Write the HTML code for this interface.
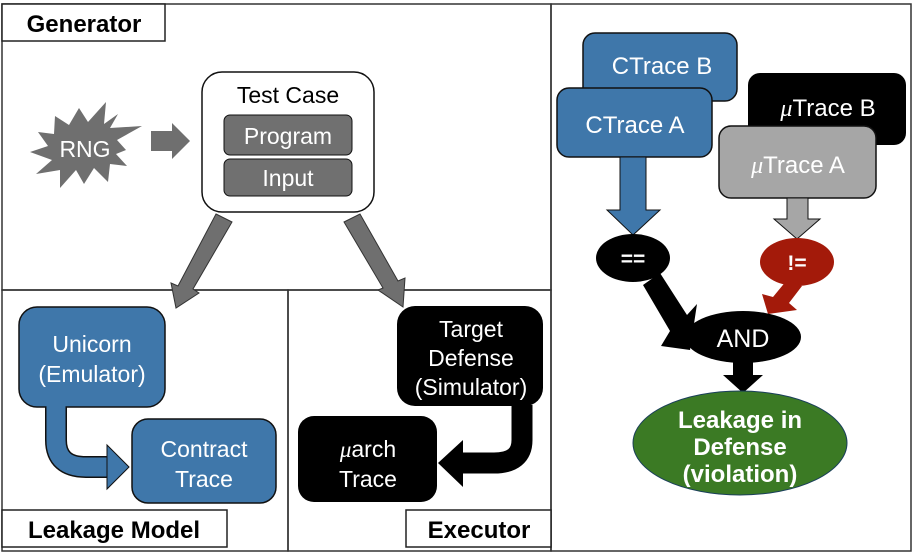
<!DOCTYPE html>
<html><head><meta charset="utf-8"><style>
html,body{margin:0;padding:0;background:#fff;}
svg{display:block;font-family:"Liberation Sans",sans-serif;}
</style></head><body>
<svg width="913" height="558" viewBox="0 0 913 558" xmlns="http://www.w3.org/2000/svg">
<!-- frames -->
<rect x="2" y="4" width="549" height="286" fill="none" stroke="#333" stroke-width="1.5"/>
<rect x="2" y="290" width="286" height="261" fill="none" stroke="#333" stroke-width="1.5"/>
<rect x="288" y="290" width="263" height="261" fill="none" stroke="#333" stroke-width="1.5"/>
<rect x="551" y="4" width="360" height="547" fill="none" stroke="#333" stroke-width="1.5"/>
<rect x="2" y="4" width="163" height="37" fill="#fff" stroke="#222" stroke-width="1.5"/>
<text x="84" y="32" font-size="24" font-weight="bold" text-anchor="middle">Generator</text>
<rect x="2" y="510" width="225" height="37" fill="#fff" stroke="#222" stroke-width="1.5"/>
<text x="114" y="538" font-size="24" font-weight="bold" text-anchor="middle">Leakage Model</text>
<rect x="406" y="510" width="145" height="37" fill="#fff" stroke="#222" stroke-width="1.5"/>
<text x="479" y="538" font-size="24" font-weight="bold" text-anchor="middle">Executor</text>

<!-- RNG -->
<polygon fill="#6f6f6f" points="55,116 69,125 79,108 88,122 106,102 104,124 118,114 110,128 142,126 117,140 126,150 116,154 127,166 110,164 108,182 94,168 84,184 76,170 60,188 60,170 36,174 52,160 30,152 48,146 38,132 54,134"/>
<text x="85" y="157" font-size="23" fill="#fff" text-anchor="middle">RNG</text>
<polygon fill="#6f6f6f" points="151,131 172,131 172,123 190,141 172,159 172,151 151,151"/>

<!-- Test case -->
<rect x="202" y="72" width="172" height="140" rx="20" fill="#fff" stroke="#111" stroke-width="1.5"/>
<text x="288" y="103" font-size="23" text-anchor="middle">Test Case</text>
<rect x="224" y="115" width="128" height="40" rx="6" fill="#707070" stroke="#111" stroke-width="1"/>
<text x="288" y="144" font-size="23" fill="#fff" text-anchor="middle">Program</text>
<rect x="224" y="159" width="128" height="37" rx="6" fill="#707070" stroke="#111" stroke-width="1"/>
<text x="288" y="186" font-size="23" fill="#fff" text-anchor="middle">Input</text>

<!-- gray diagonal arrows -->
<polygon fill="#6f6f6f" stroke="#333" stroke-width="1" points="216,214 232,222 193,289 199,293 176,308 171,283 178,286"/>
<polygon fill="#6f6f6f" stroke="#333" stroke-width="1" points="344,222 360,214 398,281 405,278 403,307 378,290 383,288"/>

<!-- Unicorn -->
<rect x="19" y="307" width="146" height="100" rx="18" fill="#3f77aa" stroke="#111" stroke-width="1.5"/>
<text x="92" y="352" font-size="23" fill="#fff" text-anchor="middle">Unicorn</text>
<text x="92" y="382" font-size="23" fill="#fff" text-anchor="middle">(Emulator)</text>
<path d="M56,407 V440 Q56,467 86,467 H110" fill="none" stroke="#111" stroke-width="22"/>
<path d="M56,406 V440 Q56,467 86,467 H111" fill="none" stroke="#3f77aa" stroke-width="19"/>
<polygon fill="#3f77aa" stroke="#111" stroke-width="1" points="107,445 129,467 107,489"/>
<rect x="132" y="419" width="144" height="84" rx="16" fill="#3f77aa" stroke="#111" stroke-width="1.5"/>
<text x="204" y="457" font-size="23" fill="#fff" text-anchor="middle">Contract</text>
<text x="204" y="487" font-size="23" fill="#fff" text-anchor="middle">Trace</text>

<!-- Target Defense -->
<rect x="397" y="306" width="146" height="100" rx="18" fill="#000"/>
<text x="471" y="337" font-size="23" fill="#fff" text-anchor="middle">Target</text>
<text x="471" y="366" font-size="23" fill="#fff" text-anchor="middle">Defense</text>
<text x="471" y="395" font-size="23" fill="#fff" text-anchor="middle">(Simulator)</text>
<path d="M522,405 V440 Q522,463 494,463 H460" fill="none" stroke="#000" stroke-width="21"/>
<polygon fill="#000" points="463,440 438,463 463,487"/>
<rect x="298" y="416" width="139" height="86" rx="16" fill="#000"/>
<text x="368" y="457" font-size="23" fill="#fff" text-anchor="middle"><tspan font-style="italic" font-family="Liberation Serif,serif">μ</tspan>arch</text>
<text x="368" y="487" font-size="23" fill="#fff" text-anchor="middle">Trace</text>

<!-- right panel -->
<rect x="583" y="33" width="154" height="68" rx="12" fill="#3f77aa" stroke="#111" stroke-width="1.5"/>
<text x="662" y="74" font-size="24" fill="#fff" text-anchor="middle">CTrace B</text>
<rect x="557" y="88" width="155" height="69" rx="12" fill="#3f77aa" stroke="#111" stroke-width="1.5"/>
<text x="635" y="133" font-size="24" fill="#fff" text-anchor="middle">CTrace A</text>
<rect x="748" y="73" width="158" height="72" rx="12" fill="#000"/>
<text x="828" y="116" font-size="24" fill="#fff" text-anchor="middle"><tspan font-style="italic" font-family="Liberation Serif,serif">μ</tspan>Trace B</text>
<rect x="719" y="126" width="157" height="72" rx="12" fill="#a6a6a6" stroke="#111" stroke-width="1.5"/>
<text x="798" y="173" font-size="24" fill="#fff" text-anchor="middle"><tspan font-style="italic" font-family="Liberation Serif,serif">μ</tspan>Trace A</text>

<polygon fill="#3f77aa" stroke="#111" stroke-width="1" points="620,157 646,157 646,210 660,210 633,235 607,210 620,210"/>
<polygon fill="#a6a6a6" stroke="#111" stroke-width="1" points="787,198 808,198 808,219 820,219 797,239 774,219 787,219"/>

<ellipse cx="633" cy="258" rx="37" ry="24" fill="#000"/>
<text x="633" y="266" font-size="21" fill="#fff" text-anchor="middle" font-weight="bold">==</text>
<ellipse cx="797" cy="262" rx="37" ry="24" fill="#a31a0a"/>
<text x="797" y="270" font-size="21" fill="#fff" text-anchor="middle" font-weight="bold">!=</text>

<polygon fill="#000" points="643,285 660,273 687,315 697,304 690,350 661,346 670,331"/>
<polygon fill="#a31a0a" points="787,280 802,286 789,303 797,310 768,314 762,294 773,297"/>

<ellipse cx="743" cy="337" rx="58" ry="26" fill="#000"/>
<text x="743" y="347" font-size="25" fill="#fff" text-anchor="middle">AND</text>
<polygon fill="#000" points="733,360 753,360 753,375 763,375 743,393 723,375 733,375"/>

<ellipse cx="740" cy="443" rx="107" ry="52" fill="#3b7a24" stroke="#1a3f5a" stroke-width="1"/>
<text x="740" y="428" font-size="24" fill="#fff" text-anchor="middle" font-weight="bold">Leakage in</text>
<text x="740" y="455" font-size="24" fill="#fff" text-anchor="middle" font-weight="bold">Defense</text>
<text x="740" y="482" font-size="24" fill="#fff" text-anchor="middle" font-weight="bold">(violation)</text>
</svg>
</body></html>
